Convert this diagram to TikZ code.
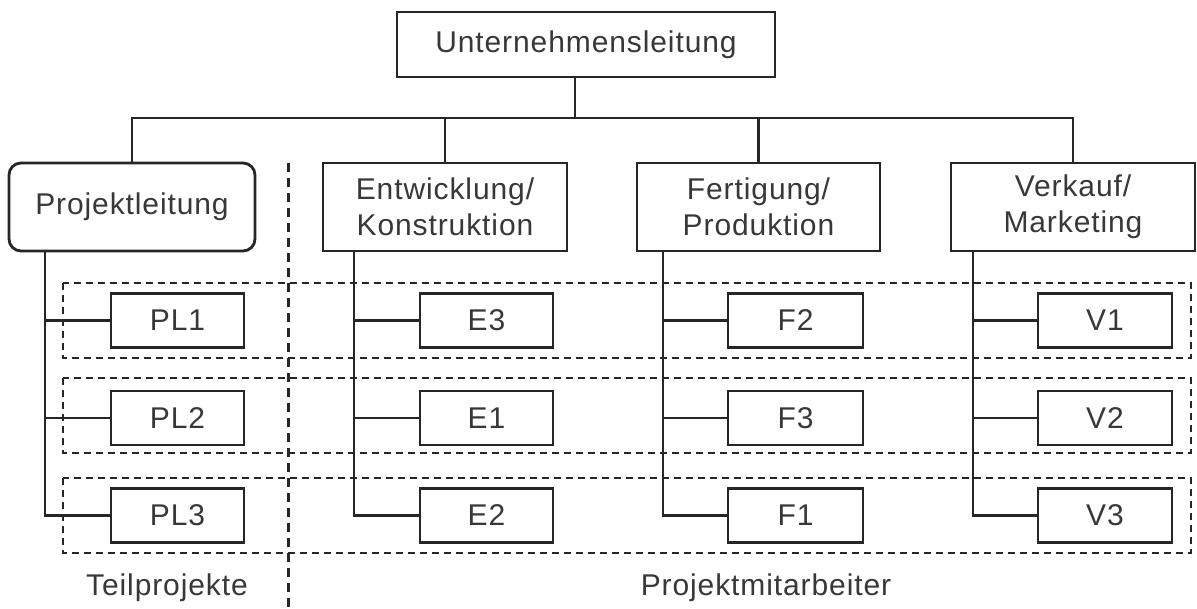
\documentclass[tikz,border=0pt]{standalone}
\usepackage{fontspec}
\setmainfont[LetterSpace=3]{Liberation Sans}
\definecolor{ink}{HTML}{262626}
\definecolor{txt}{HTML}{383838}
\begin{document}
\begin{tikzpicture}[x=1pt,y=-1pt,
  font=\fontsize{30}{36}\selectfont,
  box/.style={draw=ink,line width=2.8pt,fill=white,text=txt,inner sep=0pt,align=center},
  unit/.style={box,minimum width=244pt,minimum height=88pt},
  member/.style={box,minimum width=133pt,minimum height=54pt},
  conn/.style={draw=ink,line width=2.5pt},
  row/.style={draw=ink,line width=2pt,dash pattern=on 7pt off 5pt},
  sep/.style={draw=ink,line width=3pt,dash pattern=on 9pt off 6pt},
  lbl/.style={text=txt,inner sep=0pt}]
\useasboundingbox (0,0) rectangle (1197,608);
\fill[white] (0,0) rectangle (1197,608);

% dashed project rows
\draw[row] (63,283) rectangle (1191,358);
\draw[row] (63,378) rectangle (1191,453);
\draw[row] (63,478) rectangle (1191,553);
\draw[sep] (288,163) -- (288,608);

% boxes
\node[box,minimum width=378pt,minimum height=65pt] (top) at (586,44.5) {Unternehmensleitung};
\node[unit,minimum width=246pt,rounded corners=12pt] (PLt) at (132,207) {Projektleitung};
\node[unit] (Ent) at (445,207) {Entwicklung/\\Konstruktion};
\node[unit,minimum width=243pt] (Fer) at (758.5,207) {Fertigung/\\Produktion};
\node[unit] (Ver) at (1073,207) {Verkauf/\\Marketing};

\node[member] (PL1) at (177.5,320.5) {PL1};
\node[member] (PL2) at (177.5,418) {PL2};
\node[member] (PL3) at (177.5,515.5) {PL3};
\node[member] (E3) at (486.5,320.5) {E3};
\node[member] (E1) at (486.5,418) {E1};
\node[member] (E2) at (486.5,515.5) {E2};
\node[member,minimum width=135pt] (F2) at (795.5,320.5) {F2};
\node[member,minimum width=135pt] (F3) at (795.5,418) {F3};
\node[member,minimum width=135pt] (F1) at (795.5,515.5) {F1};
\node[member,minimum width=134pt] (V1) at (1105,320.5) {V1};
\node[member,minimum width=134pt] (V2) at (1105,418) {V2};
\node[member,minimum width=134pt] (V3) at (1105,515.5) {V3};

% top-level connectors
\coordinate (bus) at (575,118);
\coordinate (topfoot) at (575,77);
\draw[conn] (topfoot) -- (bus);
\draw[conn] (PLt.north) |- (bus);
\draw[conn] (bus) -| (Ver.north);
\draw[conn] (Ent.north) -- (Ent.north |- bus);
\draw[conn] (Fer.north) -- (Fer.north |- bus);

% stems
\coordinate (sP) at (45,251);
\coordinate (sE) at (354,251);
\coordinate (sF) at (663,251);
\coordinate (sV) at (973,251);
\draw[conn] (sP) |- (PL3.west);
\draw[conn] (PL1.west) -- (PL1.west -| sP);
\draw[conn] (PL2.west) -- (PL2.west -| sP);
\draw[conn] (sE) |- (E2.west);
\draw[conn] (E3.west) -- (E3.west -| sE);
\draw[conn] (E1.west) -- (E1.west -| sE);
\draw[conn] (sF) |- (F1.west);
\draw[conn] (F2.west) -- (F2.west -| sF);
\draw[conn] (F3.west) -- (F3.west -| sF);
\draw[conn] (sV) |- (V3.west);
\draw[conn] (V1.west) -- (V1.west -| sV);
\draw[conn] (V2.west) -- (V2.west -| sV);

% labels
\node[lbl] (tp) at (167,588) {Teilprojekte};
\node[lbl] (pm) at (766,588) {Projektmitarbeiter};
\end{tikzpicture}
\end{document}
